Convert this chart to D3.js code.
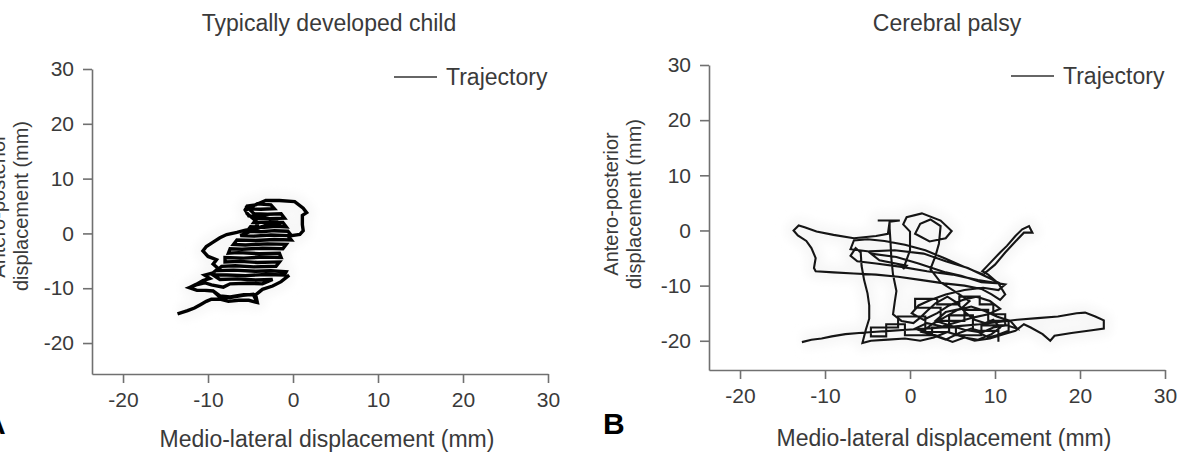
<!DOCTYPE html>
<html>
<head>
<meta charset="utf-8">
<script src="https://cdn.jsdelivr.net/npm/d3@7"></script>
<style>
  html, body { margin: 0; padding: 0; background: #fff; }
  svg { display: block; }
</style>
</head>
<body>
<svg id="chart" width="1181" height="455"></svg>
<script>
// ---------- DATA ----------
const xTicks = [-20, -10, 0, 10, 20, 30];
const yTicks = [-20, -10, 0, 10, 20, 30];
const panelTitles = ["Typically developed child", "Cerebral palsy"];
const panelLetters = ["A", "B"];
const legendLabel = "Trajectory";
const xAxisLabel = "Medio-lateral displacement (mm)";
const yAxisLabelLines = ["Antero-posterior", "displacement (mm)"];

// Typically developed child: centre-of-pressure trajectory [ML mm, AP mm]
const tdcTrajectory = [
  [-13.4,-14.6],[-12.4,-14.1],[-11.6,-13.6],[-10.9,-13.0],[-10.2,-12.4],[-9.6,-12.0],[-8.6,-12.0],[-7.6,-12.4],
  [-6.4,-12.2],[-5.2,-12.2],[-4.2,-12.6],[-4.4,-11.2],[-5.8,-11.2],[-7.4,-11.6],[-8.6,-11.4],[-9.4,-10.5],
  [-10.4,-10.4],[-11.3,-10.4],[-12.2,-9.9],[-11.4,-9.3],[-10.6,-8.6],[-9.8,-8.2],[-10.4,-7.6],[-9.4,-7.2],
  [-8.8,-6.4],[-9.4,-5.6],[-9.0,-4.8],[-10.0,-4.2],[-10.6,-3.2],[-10.2,-2.4],[-9.4,-1.6],[-8.6,-0.8],
  [-7.8,-0.2],[-6.6,0.2],[-5.6,0.6],[-4.6,0.8],[-4.2,1.6],[-4.6,2.6],[-5.4,3.6],[-5.6,4.4],
  [-5.4,5.0],[-4.4,5.2],[-3.2,6.0],[-1.6,6.0],[0.2,5.8],[1.2,4.6],[1.6,3.8],[1.1,3.3],
  [1.1,1.6],[1.2,0.5],[0.8,-0.2],[-0.2,-0.4],[-0.6,0.4],[-2.2,0.5],[-3.8,0.3],[-5.4,0.4],
  [-5.0,1.2],[-3.4,1.1],[-2.0,1.3],[-0.8,1.2],[-1.2,2.0],[-2.6,2.1],[-4.6,2.0],[-4.2,2.8],
  [-2.8,2.7],[-1.0,2.8],[-1.4,3.6],[-3.0,3.5],[-4.6,3.6],[-5.2,4.5],[-3.8,4.4],[-2.2,4.5],
  [-2.6,5.2],[-4.2,5.4],[-5.6,4.2],[-5.2,3.2],[-3.6,3.0],[-2.0,2.4],[-1.6,1.6],[-3.0,1.6],
  [-4.4,0.8],[-6.2,-0.4],[-4.6,-0.5],[-2.6,-0.3],[-0.6,-0.4],[-0.2,-1.2],[-2.2,-1.1],[-4.4,-1.3],
  [-6.6,-1.2],[-7.0,-2.0],[-5.6,-2.1],[-3.0,-1.9],[-0.8,-2.0],[-1.2,-2.8],[-3.6,-2.7],[-6.0,-2.9],
  [-7.4,-2.8],[-7.6,-3.6],[-6.4,-3.5],[-4.0,-3.7],[-1.6,-3.6],[-1.4,-4.4],[-3.4,-4.3],[-5.8,-4.5],
  [-8.0,-4.4],[-8.0,-5.2],[-6.2,-5.1],[-4.2,-5.3],[-1.6,-5.2],[-2.0,-6.0],[-4.6,-6.1],[-6.8,-5.9],
  [-8.4,-6.0],[-9.0,-6.8],[-7.0,-6.7],[-4.4,-6.9],[-2.6,-6.8],[-0.8,-7.0],[-1.0,-7.6],[-3.2,-7.5],
  [-5.6,-7.7],[-7.8,-7.6],[-9.4,-7.6],[-8.6,-8.4],[-6.6,-8.3],[-4.4,-8.5],[-2.4,-8.4],[-3.6,-9.2],
  [-5.4,-9.1],[-7.4,-9.2],[-8.2,-9.8],[-9.6,-9.4],[-10.4,-9.0],[-11.4,-9.4],[-12.2,-9.9],[-11.3,-10.4],
  [-10.2,-10.4],[-9.4,-10.5],[-8.6,-11.6],[-7.4,-11.7],[-5.9,-11.3],[-4.7,-11.1],[-4.2,-12.6],[-4.4,-11.2],
  [-3.6,-10.2],[-2.4,-9.6],[-1.4,-8.8],[-0.6,-7.8]
];

// Cerebral palsy: centre-of-pressure trajectory [ML mm, AP mm]
const cpTrajectory = [
  [-12.6,-20.2],[-11.6,-19.8],[-10.4,-19.6],[-9.2,-19.2],[-7.6,-18.8],[-6,-18.6],[-4.4,-18.4],[-2.4,-18.2],
  [-0.4,-18],[1.8,-17.8],[3.8,-17.6],[6,-17.3],[8.2,-17],[10.4,-16.6],[12.6,-16.2],[15,-15.9],
  [17.4,-15.6],[19.6,-15],[20.6,-14.9],[21.8,-15.6],[22.8,-16.3],[22.8,-17.8],[21.4,-18.1],[19,-18.6],
  [17,-19.1],[16.5,-20],[15.6,-18.8],[14.2,-17.6],[13.4,-17],[12.4,-18.2],[11,-18.8],[9.4,-19.6],
  [7.6,-20],[6,-19.2],[4.4,-18.4],[2.8,-19.4],[1.2,-20],[-0.6,-19.6],[-2.6,-19.8],[-4.6,-20],
  [-5.6,-20.4],[-5.2,-18],[-4.8,-16],[-4.8,-13.6],[-5,-11.4],[-5.4,-9],[-5.7,-6.4],[-5.8,-4],
  [-6.4,-3.2],[-7,-4.6],[-6.2,-5.6],[-4,-6],[-1,-6.6],[2,-7.4],[5,-8],[8,-9],
  [11.2,-9.8],[10.4,-10.8],[8.6,-10.4],[6.4,-10.8],[4.2,-11.6],[2.4,-12.6],[1,-13.6],[0.2,-15],
  [1.6,-16.2],[3.2,-15],[4.6,-13.6],[6.2,-12.6],[7.8,-12],[9.4,-12.8],[10.6,-14.2],[9.2,-15.2],
  [7.4,-15.8],[5.6,-16.6],[3.8,-17.4],[2,-16.8],[0.6,-17.8],[2.4,-18.8],[4.2,-19.8],[5.8,-18.6],
  [7.2,-17.8],[8.6,-18.4],[9.8,-17.6],[11.4,-17.2],[12.6,-17.8],[11.8,-16.4],[10.2,-15.6],[8.8,-14.6],
  [7.2,-13.8],[5.6,-14.4],[4,-15.8],[2.6,-17],[1.4,-18.4],[3,-19],[5,-20.2],[6.4,-19.4],
  [8,-19.8],[9.6,-18.8],[10.6,-17.6],[9.8,-16.2],[8.8,-16.8],[7.6,-16.2],[6.6,-15],[5.4,-13],
  [4.4,-12],[3,-13.2],[2,-14.6],[1.2,-15.8],[0.4,-16.8],[-1,-16.4],[-2,-15.2],[-1.8,-13],
  [-1.6,-11],[-2,-8],[-2.2,-5],[-2.3,-1.9],[-2.4,0.4],[-2.4,1.8],[-3.8,1.8],[-1.2,1.8],
  [-2.4,1.6],[-2.6,-0.6],[-4,-1],[-6.6,-1.4],[-9,-0.8],[-11,-0.2],[-12.4,0.6],[-13.1,0.9],
  [-13.7,0],[-13.2,-0.9],[-12.2,-1.9],[-11.6,-3.2],[-11.1,-5],[-11.3,-6.8],[-11.1,-7.4],[-9,-7.6],
  [-6.6,-7.8],[-4,-8],[-1.4,-8.4],[1.4,-9],[4,-9.6],[6.4,-10],[8.4,-10.6],[9.6,-11.6],
  [10.6,-12.6],[11.2,-11.6],[10.4,-9.6],[9.2,-8],[8.5,-7.4],[9.6,-5.6],[10.6,-4],[11.4,-2.8],
  [12.4,-1],[13.2,0.2],[14,0.8],[14.4,-0.4],[13.4,-0.4],[12.4,-2],[11.2,-4],[10,-6.2],
  [8.6,-8],[6.4,-6.6],[4,-5],[1.8,-3.6],[-0.6,-2.6],[-3,-1.9],[-5,-1.6],[-6.6,-1.8],
  [-7,-3.4],[-4.8,-3.8],[-1.8,-3.6],[1.6,-4.2],[4.2,-5.6],[6.8,-6.8],[9,-8.4],[10.6,-9.6],
  [8.4,-9.4],[6,-8.2],[4.2,-7.6],[1,-6],[-1.6,-4.8],[-4.6,-4.2],[-3.6,-5.4],[-0.4,-6.4],
  [-0.8,-7],[0,-3.6],[0,-0.2],[-0.8,1.1],[-0.4,2.4],[1.4,3.1],[3.6,1.8],[4.9,-0.1],
  [4.2,-1.4],[2.3,-2],[0.6,-0.6],[1.2,1.2],[2.4,2],[3.6,0.8],[3.4,-2.4],[3,-4.6],
  [2.4,-7],[3.6,-9.4],[5.4,-11.2],[7,-12.8],[6,-14.2],[4.2,-14.8],[3,-16.4],[4.6,-17.2],
  [6.4,-18],[8,-18.4],[9.2,-19.4],[10.2,-19.0],[11.6,-18.2],[11.6,-16.4],[9.2,-16.4],[9.2,-14.4],
  [6.4,-14.4],[6.4,-16.4],[3.6,-16.4],[3.6,-14.0],[0.6,-14.0],[0.6,-12.4],[3.2,-12.4],[3.2,-13.4],
  [5.8,-13.4],[5.8,-12.0],[8.2,-12.0],[8.2,-13.4],[9.8,-13.4],[9.8,-15.2],[11.2,-15.2],[11.2,-17.2],
  [8.4,-17.2],[8.4,-19.0],[5.4,-19.0],[5.4,-17.6],[2.6,-17.6],[2.6,-19.0],[-0.6,-19.0],[-0.6,-17.0],
  [-2.8,-17.0],[-2.8,-19.2],[-4.6,-19.2],[-4.6,-17.6],[-1.4,-17.6],[-1.4,-15.6],[1.8,-15.6],[1.8,-18.4],
  [4.6,-18.4],[4.6,-15.4],[7.4,-15.4],[7.4,-18.2],[10.4,-18.2],[10.4,-20.0]
];

// ---------- DRAWING ----------
const FONT = '"Liberation Sans", Arial, Helvetica, sans-serif';
const TEXT = "#3a3a3a";
const AXIS = "#707070";

const panels = [
  { data: tdcTrajectory, title: panelTitles[0], letter: panelLetters[0],
    xr: [92, 548], yr: [374, 69], xd: [-23.65, 30], yd: [-25.65, 30],
    titleX: 329, legendX: 394, legendY: 77, yLabX: 5, yLabY: 206, xLabY: 447,
    letterX: -16, letterY: 434, color: "#000", lw: 3.4 },
  { data: cpTrajectory, title: panelTitles[1], letter: panelLetters[1],
    xr: [709, 1165], yr: [370, 65], xd: [-23.65, 30], yd: [-25.3, 30],
    titleX: 947, legendX: 1011, legendY: 76, yLabX: 618, yLabY: 204, xLabY: 446,
    letterX: 603, letterY: 434, color: "#151515", lw: 2.1 }
];

const svg = d3.select("#chart");
svg.append("rect").attr("width", 1181).attr("height", 455).attr("fill", "#fff");
const defs = svg.append("defs");
defs.append("filter").attr("id", "halo").attr("x", "-20%").attr("y", "-20%").attr("width", "140%").attr("height", "140%")
  .append("feGaussianBlur").attr("stdDeviation", 5);

panels.forEach(p => {
  const x = d3.scaleLinear().domain(p.xd).range(p.xr);
  const y = d3.scaleLinear().domain(p.yd).range(p.yr);
  const g = svg.append("g");
  const line = d3.line().x(d => x(d[0])).y(d => y(d[1]));

  // very faint halo around the trace (as in the scanned figure)
  g.append("path")
    .datum(p.data)
    .attr("d", line)
    .attr("fill", "none")
    .attr("stroke", "#f7f7f7")
    .attr("stroke-width", 16)
    .attr("stroke-linejoin", "round")
    .attr("filter", "url(#halo)");

  // trajectory
  g.append("path")
    .datum(p.data)
    .attr("d", line)
    .attr("fill", "none")
    .attr("stroke", p.color)
    .attr("stroke-width", p.lw)
    .attr("stroke-linejoin", "miter")
    .attr("stroke-linecap", "square");

  // axes
  const fmt = d => String(d);
  const xAxis = g.append("g").attr("transform", `translate(0,${p.yr[0]})`)
    .call(d3.axisBottom(x).tickValues(xTicks).tickSize(9).tickSizeOuter(0).tickPadding(9).tickFormat(fmt));
  const yAxis = g.append("g").attr("transform", `translate(${p.xr[0]},0)`)
    .call(d3.axisLeft(y).tickValues(yTicks).tickSize(9).tickSizeOuter(0).tickPadding(9).tickFormat(fmt));
  [xAxis, yAxis].forEach(a => {
    a.select(".domain").attr("stroke", AXIS).attr("stroke-width", 1.6);
    a.selectAll(".tick line").attr("stroke", AXIS).attr("stroke-width", 1.6);
    a.selectAll(".tick text").attr("fill", TEXT).style("font-family", FONT).style("font-size", "21px");
  });

  // title
  g.append("text").attr("x", p.titleX).attr("y", 31).attr("text-anchor", "middle")
    .attr("fill", TEXT).style("font-family", FONT).style("font-size", "23px").text(p.title);

  // legend
  g.append("line").attr("x1", p.legendX).attr("x2", p.legendX + 43)
    .attr("y1", p.legendY).attr("y2", p.legendY).attr("stroke", "#333").attr("stroke-width", 1.5);
  g.append("text").attr("x", p.legendX + 52).attr("y", p.legendY + 8)
    .attr("fill", TEXT).style("font-family", FONT).style("font-size", "23px").text(legendLabel);

  // x label
  g.append("text").attr("x", (p.xr[0] + p.xr[1]) / 2 + 7).attr("y", p.xLabY).attr("text-anchor", "middle")
    .attr("fill", TEXT).style("font-family", FONT).style("font-size", "23px").text(xAxisLabel);

  // y label (two lines, rotated)
  const yl = g.append("text").attr("transform", `translate(${p.yLabX},${p.yLabY}) rotate(-90)`)
    .attr("text-anchor", "middle").attr("fill", TEXT).style("font-family", FONT).style("font-size", "20px");
  yAxisLabelLines.forEach((t, i) => {
    yl.append("tspan").attr("x", 0).attr("dy", i === 0 ? 0 : 23).text(t);
  });

  // panel letter
  g.append("text").attr("x", p.letterX).attr("y", p.letterY).attr("fill", "#000")
    .style("font-family", FONT).style("font-weight", "bold").style("font-size", "30px").text(p.letter);
});
</script>
</body>
</html>
